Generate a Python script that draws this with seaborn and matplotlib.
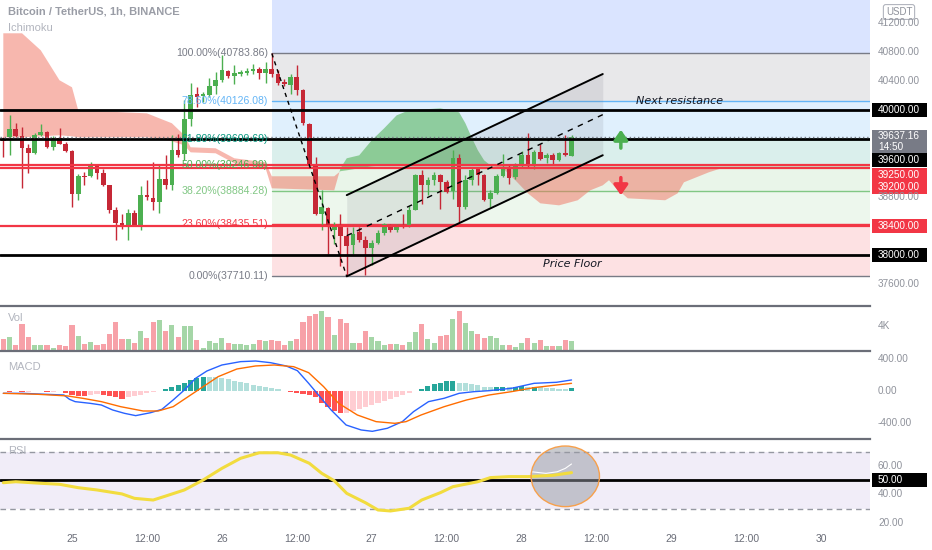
import numpy as np
import pandas as pd
import matplotlib
matplotlib.use("Agg")
import matplotlib.pyplot as plt
from matplotlib.patches import Ellipse, Rectangle
from matplotlib.transforms import IdentityTransform
import seaborn as sns

# one candle per hour, x = hours counted from the 25th 00:00
first_hour = -11
opens = [39596, 39632, 39738, 39641, 39485, 39416, 39665, 39700, 39494, 39623,
         39540, 39438, 38851, 39090, 39090, 39241, 39135, 38965, 38630, 38446,
         38400, 38583, 38423, 38828, 38796, 38735, 39058, 38975, 39458, 39403,
         39876, 40221, 40193, 40207, 40331, 40414, 40542, 40473, 40506, 40520,
         40542, 40575, 40514, 40575, 40506, 40390, 40345, 40459, 40276, 39816,
         39265, 38565, 38658, 38345, 38390, 38262, 38138, 38321, 38216, 38106,
         38175, 38308, 38414, 38345, 38414, 38414, 38630, 39103, 38965, 39044,
         39103, 39011, 38887, 39342, 38666, 39037, 39196, 39103, 38782, 38859,
         39090, 39218, 39080, 39241, 39389, 39265, 39425, 39342, 39389, 39320,
         39411, 39370]
highs = [39632, 39931, 39825, 39769, 39540, 39687, 39807, 39714, 39641, 39761,
         39562, 39458, 39117, 39149, 39287, 39255, 39196, 38975, 38666, 38575,
         38644, 38630, 38952, 39037, 39287, 39241, 39379, 39655, 39678, 40138,
         40372, 40317, 40252, 40441, 40528, 40759, 40561, 40621, 40561, 40589,
         40644, 40597, 40666, 40783.86, 40552, 40437, 40506, 40621, 40299, 39830,
         39356, 38897, 38666, 38459, 38565, 38390, 38390, 38390, 38262, 38207,
         38345, 38445, 38437, 38437, 38575, 38676, 39127, 39182, 39080, 39149,
         39127, 39035, 39458, 39403, 39103, 39218, 39218, 39127, 38897, 39127,
         39403, 39241, 39273, 39438, 39687, 39458, 39540, 39411, 39411, 39425,
         39655, 39655]
lows = [39356, 39379, 39632, 38934, 39135, 39403, 39645, 39485, 39458, 39531,
        39425, 38666, 38759, 38965, 39080, 39058, 38952, 38583, 38207, 38368,
        38216, 38414, 38345, 38768, 38630, 38583, 38920, 38906, 39356, 39310,
        39779, 40041, 40114, 40183, 40230, 40390, 40451, 40368, 40469, 40492,
        40506, 40437, 40376, 40459, 40345, 40331, 40230, 40207, 39793, 39218,
        38552, 38345, 38014, 38161, 37848, 37710.11, 38023, 38184, 37725, 37862,
        38161, 38276, 38321, 38321, 38382, 38390, 38621, 38703, 38828, 38965,
        38644, 38859, 38772, 38459, 38644, 38965, 38965, 38749, 38666, 38851,
        39080, 38989, 39058, 39218, 39209, 39196, 39320, 39273, 39265, 39301,
        39375, 39365]
closes = [39576, 39747, 39641, 39485, 39416, 39655, 39700, 39494, 39623, 39540,
          39438, 38851, 39090, 39076, 39232, 39135, 38965, 38621, 38446, 38400,
          38583, 38423, 38828, 38804, 38735, 39058, 38975, 39458, 39379, 39876,
          40207, 40179, 40230, 40331, 40414, 40552, 40469, 40520, 40528, 40542,
          40575, 40514, 40575, 40506, 40376, 40359, 40459, 40285, 39825, 39241,
          38565, 38666, 38390, 38414, 38262, 38124, 38299, 38216, 38106, 38175,
          38308, 38427, 38345, 38404, 38390, 38630, 39103, 38965, 39044, 39113,
          39011, 38873, 39342, 38666, 39037, 39182, 39103, 38768, 38859, 39090,
          39218, 39072, 39241, 39389, 39251, 39425, 39334, 39389, 39320, 39411,
          39379, 39637.16]
volumes = [1870, 2240, 1010, 4370, 2240, 1010, 1010, 905, 535, 1010,
           745, 4100, 2345, 1175, 1385, 905, 1065, 2770, 4640, 1970,
           1865, 1335, 3250, 2080, 4640, 5010, 3250, 4210, 2290, 4050,
           4050, 1705, 535, 1545, 1280, 2130, 1280, 1120, 1120, 905,
           1175, 1760, 1650, 1760, 1600, 1010, 1650, 1970, 4640, 5545,
           5865, 6400, 5440, 2505, 5170, 4530, 1335, 1335, 3145, 2240,
           1545, 1015, 1175, 1065, 905, 1440, 3040, 4370, 1970, 1280,
           2400, 2610, 5170, 6345, 4530, 3250, 2665, 2080, 2345, 2130,
           905, 905, 640, 1280, 2130, 1280, 1705, 745, 745, 745,
           1810, 1545]
macd_hist = [5, -4, 6, -6, -3, 4, 3, -5, -3, 3,
             -15, -40, -60, -62, -45, -35, -40, -55, -75, -95,
             -75, -55, -40, -25, -12, 12, 25, 60, 80, 110,
             140, 165, 185, 180, 175, 165, 150, 135, 120, 100,
             85, 70, 55, 40, 25, 10, -5, -15, -30, -45,
             -75, -140, -200, -240, -275, -265, -240, -215, -190, -165,
             -140, -115, -90, -65, -40, -15, 10, 35, 70, 95,
             110, 125, 130, 110, 100, 90, 75, 60, 50, 55,
             60, 55, 60, 65, 55, 60, 55, 45, 40, 35,
             30, 45]

macd_h = [-11, -7.9, -5.5, -1.3, -0.4, 0.5, 2.9, 4.7, 6.5, 8.4, 10.2, 12.6, 14.4,
          16.2, 18, 19.8, 21.6, 24, 27, 29.4, 31.8, 34.3, 36.1, 37.9, 39.7, 41.5,
          43.9, 46.3, 48.1, 50.5, 52.9, 54.7, 57.1, 59.6, 62, 64.4, 66.8, 70.4,
          74, 77.6, 80]
macd_line = [-23, -23, -31, -44, -98, -127, -148, -169, -231, -273, -302, -265, -223,
             -106, 19, 165, 256, 331, 373, 381, 360, 319, 260, 102, -65, -231,
             -419, -481, -498, -460, -377, -252, -127, -85, -23, -2, 10, 40,
             102, 115, 144]
signal_h = [-11, -5.5, -0.7, 1.7, 4.7, 7.8, 11.4, 13.8, 16.2, 18.6, 21, 23.4, 26.4,
            29.4, 32.4, 35.5, 37.9, 40.3, 42.7, 45.7, 48.7, 51.7, 53.5, 55.9, 59.6,
            63.2, 66.8, 70.4, 74, 77.6, 80]
signal_line = [-23, -35, -56, -85, -127, -190, -244, -244, -190, -65, 60, 185, 281,
               319, 331, 310, 235, 60, -148, -294, -377, -398, -377, -294, -190,
               -106, -44, -2, 48, 81, 102]

rsi_h = [-11, -9, -5, -2, 1, 4, 8, 10, 13, 15, 18, 21, 24, 27, 30, 33, 35, 38, 40,
         42, 44, 47, 49, 51, 54, 56, 59, 61, 65, 67, 70, 73, 77, 80]
rsi = [48.3, 49, 47.9, 47.2, 44.8, 43.2, 40.4, 37.3, 36.1, 38.9, 43.2, 50.2, 58.4,
       65.5, 69.4, 69.4, 67.8, 62, 54.9, 49.7, 40.8, 34.2, 29.1, 28.4, 30.3, 36.1,
       41.3, 45.5, 49, 51.9, 52.6, 52.6, 53.5, 55.4]
rsi_fast_h = [73.6, 75.9, 77.7, 79, 80]
rsi_fast = [56, 54.9, 56, 58.4, 61.5]

# ichimoku cloud (already shifted forward)
cloud_h = [-11, -8, -5, -2, 0, 1, 12, 14, 16, 18, 19, 23, 26, 31, 32, 42, 43, 44, 46,
           48, 50, 52, 54, 59, 62, 63, 64, 65, 66, 67, 69, 71, 73, 75, 78, 81, 83,
           85, 86, 87, 89, 95, 97, 98, 102, 104, 105]
span_a = [39627, 39627, 39641, 39655, 39641, 39627, 39627, 39600, 39572, 39517, 39420,
          39407, 39269, 39200, 38924, 38896, 39200, 39338, 39379, 39586, 39752, 39931,
          40000, 40027, 39972, 39821, 39627, 39448, 39310, 39241, 39200, 39035, 38855,
          38717, 38689, 38759, 38896, 38965, 39035, 38938, 38786, 38759, 38855, 39007,
          39145, 39200, 39214]
span_b = [41062, 41062, 40827, 40414, 40317, 40000, 39958, 39889, 39821, 39655, 39490,
          39476, 39338, 39283, 39090, 39090, 39160, 39172, 39200, 39227, 39241, 39241,
          39241, 39241, 39241, 39241, 39241, 39241, 39241, 39241, 39227, 39227, 39227,
          39227, 39227, 39227, 39227, 39214, 39214, 39214, 39214, 39214, 39214, 39214,
          39214, 39214, 39214]

fib_low, fib_high = 37710.11, 40783.86
fib_start_h, fib_end_h = 32, 44
fib_ratios = [0, 0.236, 0.382, 0.5, 0.618, 0.786, 1, 1.618]
fib_colors = ['#787b86', '#f23645', '#81c784', '#4caf50', '#089981', '#64b5f6', '#787b86', '#2962ff']
fib_alpha = [0, 0.15, 0.14, 0.12, 0.15, 0.2, 0.17, 0.17]

channel_h = [44, 85]
channel_low = [37710, 39380]
channel_high = [38830, 40500]

level_prices = [40000, 39600, 39250, 39200, 38400, 38000]
level_colors = ['black', 'black', '#f23645', '#f23645', '#f23645', 'black']
last_price = 39637.16

tick_hours = [0, 12, 24, 36, 48, 60, 72, 84, 96, 108, 120]
tick_labels = ['25', '12:00', '26', '12:00', '27', '12:00', '28', '12:00', '29', '12:00', '30']

df = pd.DataFrame({'open': opens, 'high': highs, 'low': lows, 'close': closes, 'volume': volumes})
df['h'] = first_hour + np.arange(len(df))
df['up'] = df['close'] >= df['open']

sns.set_theme(style='white')
plt.rcParams['font.family'] = ['Liberation Sans', 'DejaVu Sans']

fig = plt.figure(figsize=(9.32, 5.5), dpi=100)
W, H = 932, 550
right = 870 / W
ax = fig.add_axes([0, 1 - 305.7 / H, right, 305.7 / H])
ax_vol = fig.add_axes([0, 1 - 351 / H, right, 45.3 / H], sharex=ax)
ax_macd = fig.add_axes([0, 1 - 439 / H, right, 88 / H], sharex=ax)
ax_rsi = fig.add_axes([0, 1 - 527 / H, right, 88 / H], sharex=ax)

x_min, x_max = -11.53, 127.8
ax.set_xlim(x_min, x_max)
ax.set_ylim(37305, 41521)
ax_vol.set_ylim(0, 7250)
ax_macd.set_ylim(-594, 506)
ax_rsi.set_ylim(17.1, 79.1)

for a in (ax, ax_vol, ax_macd, ax_rsi):
    for s in a.spines.values():
        s.set_visible(False)
    a.set_yticks([])
    a.tick_params(axis='x', length=0, labelbottom=False)
for a in (ax_vol, ax_macd, ax_rsi):
    a.spines['top'].set_visible(True)
    a.spines['top'].set_color('#6b6e78')
    a.spines['top'].set_linewidth(1.6)

# fibonacci retracement bands
fib_levels = [fib_low + r * (fib_high - fib_low) for r in fib_ratios]
for k in range(1, len(fib_levels)):
    ax.fill_between([fib_start_h, x_max], fib_levels[k - 1], fib_levels[k],
                    color=fib_colors[k], alpha=fib_alpha[k], lw=0, zorder=1)
for k in range(len(fib_levels) - 1):
    ax.plot([fib_start_h, x_max], [fib_levels[k]] * 2, color=fib_colors[k], lw=1, zorder=2)
    ax.text(fib_start_h - 0.6, fib_levels[k], f"{fib_ratios[k] * 100:.2f}%({fib_levels[k]:.2f})",
            ha='right', va='center', fontsize=7.6, color=fib_colors[k], zorder=9)
ax.plot([fib_start_h, fib_end_h], [fib_high, fib_low], color='black', lw=1, ls=(0, (3, 3)), zorder=8)

# ichimoku cloud
a_arr, b_arr = np.array(span_a), np.array(span_b)
ax.fill_between(cloud_h, a_arr, b_arr, where=a_arr >= b_arr, interpolate=True,
                color='#4caf50', alpha=0.55, lw=0, zorder=3)
ax.fill_between(cloud_h, a_arr, b_arr, where=a_arr < b_arr, interpolate=True,
                color='#f0705f', alpha=0.5, lw=0, zorder=3)

# parallel channel
ax.fill_between(channel_h, channel_low, channel_high, color='#787b86', alpha=0.15, lw=0, zorder=4)
ax.plot(channel_h, channel_low, color='black', lw=1.4, zorder=8)
ax.plot(channel_h, channel_high, color='black', lw=1.4, zorder=8)
ax.plot(channel_h, (np.array(channel_low) + np.array(channel_high)) / 2,
        color='black', lw=1, ls=(0, (4, 4)), zorder=8)

# candles
col = np.where(df['up'], '#4caf50', '#c62836')
ax.vlines(df['h'], df['low'], df['high'], colors=col, lw=1, zorder=5)
body = (df['close'] - df['open']).abs().clip(lower=14)
ax.bar(df['h'], body, bottom=np.minimum(df['open'], df['close']), width=0.74,
       color=col, lw=0, zorder=6)

# horizontal levels
for p, c in zip(level_prices, level_colors):
    ax.axhline(p, color=c, lw=2 if c == 'black' else 1.6, zorder=7)
ax.axhline(last_price, color='#787b86', lw=1, ls=(0, (1, 2)), zorder=7)

ax.text(90.3, 40130, 'Next resistance', fontsize=8, style='italic', family='DejaVu Sans',
        va='center', ha='left', color='#131722', zorder=9)
ax.text(75.4, 37876, 'Price Floor', fontsize=8, style='italic', family='DejaVu Sans',
        va='center', ha='left', color='#131722', zorder=9)
ax.annotate('', xy=(87.9, 39770), xytext=(87.9, 39440),
            arrowprops=dict(arrowstyle='-|>,head_width=0.35,head_length=0.5', color='#4caf50', lw=2.5), zorder=9)
ax.annotate('', xy=(87.9, 38790), xytext=(87.9, 39110),
            arrowprops=dict(arrowstyle='-|>,head_width=0.35,head_length=0.5', color='#f23645', lw=2.5), zorder=9)

ax.text(8 / 870, 1 - 12 / 305.7, 'Bitcoin / TetherUS, 1h, BINANCE', transform=ax.transAxes,
        fontsize=8, fontweight='bold', color='#9a9da6', va='center', zorder=10)
ax.text(8 / 870, 1 - 28 / 305.7, 'Ichimoku', transform=ax.transAxes,
        fontsize=8, color='#b2b5be', va='center', zorder=10)

# volume
vcol = np.where(df['up'], '#a5d6a7', '#f7a1a8')
ax_vol.bar(df['h'], df['volume'], width=0.82, color=vcol, lw=0)
ax_vol.text(8 / 870, 0.72, 'Vol', transform=ax_vol.transAxes, fontsize=8, color='#b2b5be', va='center')

# macd
hcol = []
for k, v in enumerate(macd_hist):
    prev = macd_hist[k - 1] if k else 0
    if v >= 0:
        hcol.append('#26a69a' if v >= prev else '#b2dfdb')
    else:
        hcol.append('#ffcdd2' if v > prev else '#ff5252')
ax_macd.bar(df['h'], macd_hist, width=0.82, color=hcol, lw=0)
sns.lineplot(x=macd_h, y=macd_line, ax=ax_macd, color='#2962ff', lw=1)
sns.lineplot(x=signal_h, y=signal_line, ax=ax_macd, color='#ff6d00', lw=1)
ax_macd.text(8 / 870, 0.82, 'MACD', transform=ax_macd.transAxes, fontsize=8, color='#b2b5be', va='center')

# rsi
ax_rsi.axhspan(30, 70, color='#7e57c2', alpha=0.1, lw=0)
ax_rsi.axhline(70, color='#9598a1', lw=1, ls=(0, (4, 3)))
ax_rsi.axhline(30, color='#9598a1', lw=1, ls=(0, (4, 3)))
ax_rsi.axhline(50, color='black', lw=2, zorder=3)
sns.lineplot(x=rsi_h, y=rsi, ax=ax_rsi, color='#f2dc3e', lw=2.2, zorder=6)
ax_rsi.add_patch(Ellipse((79, 52.8), 10.95, 42.7, fc='#9598a1', alpha=0.5, ec='none', zorder=4))
ax_rsi.add_patch(Ellipse((79, 52.8), 10.95, 42.7, fc='none', ec='#f7a04b', lw=1, zorder=7))
sns.lineplot(x=rsi_fast_h, y=rsi_fast, ax=ax_rsi, color='white', lw=0.8, zorder=6)
ax_rsi.text(8 / 870, 0.86, 'RSI', transform=ax_rsi.transAxes, fontsize=8, color='#b2b5be', va='center')

for a in (ax_vol, ax_macd, ax_rsi):
    a.set_xlabel('')
    a.set_ylabel('')

ax_rsi.set_xticks(tick_hours)
ax_rsi.set_xticklabels(tick_labels)
ax_rsi.tick_params(axis='x', labelbottom=True, labelsize=7.5, labelcolor='#6a6d78', pad=5)
ax.set_xlim(x_min, x_max)


def tag(a, y, txt, fc=None, tc='#8f929b', dy=0, h=14):
    ypx = a.transData.transform((0, y))[1] - dy
    if fc:
        fig.add_artist(Rectangle((872, ypx - h / 2), 55, h, transform=IdentityTransform(),
                                 fc=fc, ec='none', zorder=5))
    fig.text(878 / W, ypx / H, txt, color=tc, fontsize=7.2, va='center', ha='left',
             zorder=6, linespacing=1.05)


for p in (41200, 40800, 40400, 38800, 37600):
    tag(ax, p, f"{p:.2f}")
tag(ax, 40000, '40000.00', 'black', 'white')
tag(ax, last_price, f"{last_price:.2f}\n14:50", '#787b86', 'white', dy=5, h=23)
tag(ax, 39600, '39600.00', 'black', 'white', dy=21)
tag(ax, 39250, '39250.00', '#f23645', 'white', dy=10, h=13)
tag(ax, 39200, '39200.00', '#f23645', 'white', dy=19, h=13)
tag(ax, 38400, '38400.00', '#f23645', 'white')
tag(ax, 38000, '38000.00', 'black', 'white')
tag(ax_vol, 4000, '4K')
for v in (400, 0, -400):
    tag(ax_macd, v, f"{v:.2f}")
for v in (60, 40, 20):
    tag(ax_rsi, v, f"{v:.2f}")
tag(ax_rsi, 50, '50.00', 'black', 'white')

fig.text(899 / W, 1 - 12 / H, 'USDT', fontsize=7, color='#8f929b', ha='center', va='center',
         bbox=dict(boxstyle='round,pad=0.25', fc='white', ec='#b2b5be', lw=0.8))

fig.savefig('out.png', dpi=100)
